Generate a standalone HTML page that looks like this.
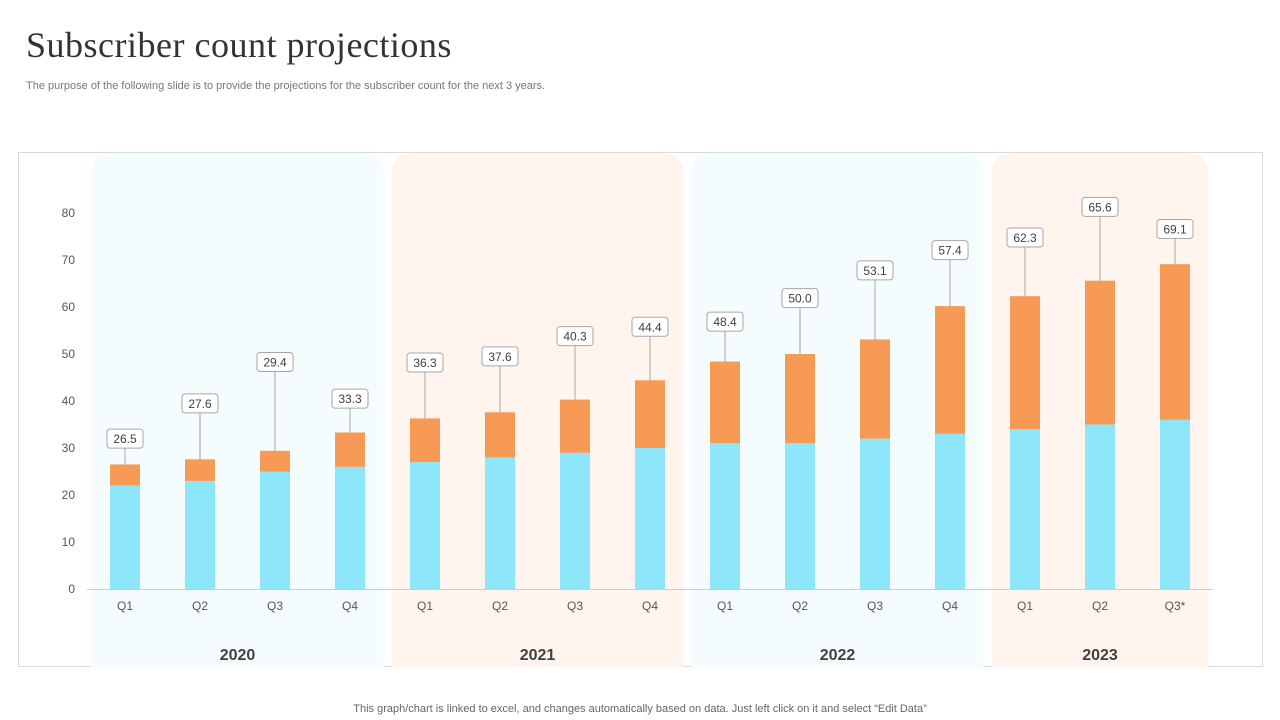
<!DOCTYPE html>
<html><head><meta charset="utf-8"><style>
body{margin:0;width:1280px;height:720px;background:#fff;font-family:"Liberation Sans",sans-serif;position:relative;overflow:hidden}
#title{position:absolute;left:26px;top:24px;font:36px "Liberation Serif",serif;color:#333;letter-spacing:0.5px}
#sub{position:absolute;left:26px;top:80px;font-size:11px;color:#777}
#foot{position:absolute;left:0;width:1280px;top:703px;text-align:center;font-size:11px;color:#666}
svg{position:absolute;left:0;top:0}
</style></head><body>
<div id="title">Subscriber count projections</div>
<div id="sub">The purpose of the following slide is to provide the projections for the subscriber count for the next 3 years.</div>
<div id="foot">This graph/chart is linked to excel, and changes automatically based on data. Just left click on it and select “Edit Data”</div>
<svg id="chart" width="1280" height="720"></svg>
<script>
const categories=["Q1","Q2","Q3","Q4","Q1","Q2","Q3","Q4","Q1","Q2","Q3","Q4","Q1","Q2","Q3*"];
const years=["2020","2021","2022","2023"];
const yearSpan=[4,4,4,3];
const blueValues=[22,23,25,26,27,28,29,30,31,31,32,33,34,35,36];
const orangeValues=[4.5,4.6,4.4,7.3,9.3,9.6,11.3,14.4,17.4,19,21.1,27.2,28.3,30.6,33.1];
const labelValues=["26.5","27.6","29.4","33.3","36.3","37.6","40.3","44.4","48.4","50.0","53.1","57.4","62.3","65.6","69.1"];
const labelLift=[5.6,12,19,7.3,12,12,13.6,11.5,8.6,12,14.8,12,12.6,15.8,7.6];
const yTicks=[0,10,20,30,40,50,60,70,80];
const NS="http://www.w3.org/2000/svg",svg=document.getElementById('chart');
const y=v=>589-v*4.7, x=i=>125+i*75;
function mk(t,a,p){const e=document.createElementNS(NS,t);for(const k in a)e.setAttribute(k,a[k]);(p||svg).appendChild(e);return e;}
const frame=mk('rect',{x:18.5,y:152.5,width:1244,height:514,fill:'none',stroke:'#d9d9d9'});

let start=0;const panelCols=['#f5fcfe','#fff5ee','#f5fcfe','#fff5ee'];
years.forEach((yr,k)=>{
 const x0=x(start)-37.5+4, x1=x(start+yearSpan[k]-1)+37.5-4;
 const p=mk('path',{d:`M${x0},667 V175 Q${x0},153 ${x0+22},153 H${x1-22} Q${x1},153 ${x1},175 V667 Z`,fill:panelCols[k]});
 
 const t=mk('text',{x:(x0+x1)/2,y:660,'text-anchor':'middle','font-size':16,'font-weight':'bold',fill:'#404040'});t.textContent=yr;
 
 start+=yearSpan[k];
});
yTicks.forEach(v=>{const t=mk('text',{x:75,y:y(v)+4,'text-anchor':'end','font-size':12,fill:'#555'});t.textContent=v;
 });
const ax=mk('line',{x1:87,x2:1213,y1:589.5,y2:589.5,stroke:'#d9c9c0'});

categories.forEach((c,i)=>{
 const cx=x(i),b=blueValues[i],o=orangeValues[i];
 const r1=mk('rect',{x:cx-15,y:y(b),width:30,height:y(0)-y(b),fill:'#8ee6fb'});
 
 const r2=mk('rect',{x:cx-15,y:y(b+o),width:30,height:y(b)-y(b+o),fill:'#f79a55'});
 
 const ly=y(b+o+labelLift[i]);
 const ln=mk('line',{x1:cx,x2:cx,y1:ly+9,y2:y(b+o),stroke:'#a6a6a6'});
 
 const bx=mk('rect',{x:cx-18,y:ly-9,width:36,height:19,rx:3,fill:'#fff',stroke:'#a6a6a6'});
 
 const lt=mk('text',{x:cx,y:ly+5,'text-anchor':'middle','font-size':12,fill:'#404040'});lt.textContent=labelValues[i];
 
 const ct=mk('text',{x:cx,y:610,'text-anchor':'middle','font-size':12,fill:'#555'});ct.textContent=c;
 
});
</script>
</body></html>
